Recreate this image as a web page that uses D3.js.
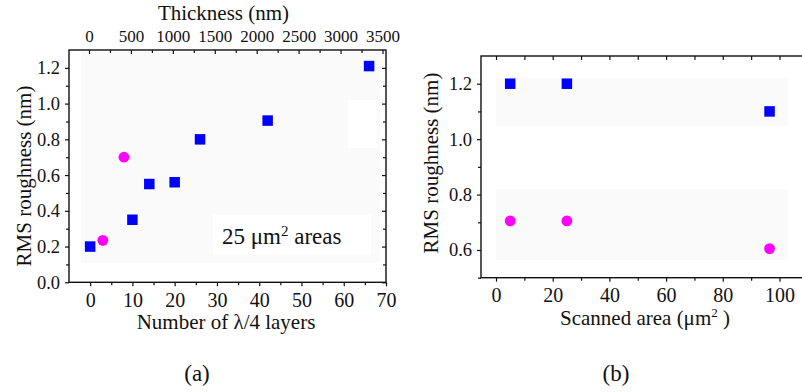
<!DOCTYPE html>
<html><head><meta charset="utf-8">
<script src="https://cdn.jsdelivr.net/npm/d3@7/dist/d3.min.js"></script>
</head>
<body style="margin:0;padding:0;background:#fff;"><svg id="c" width="802" height="392" style="display:block;"></svg>
<script>
// ---- data panel (a)
const layersSquares = [0, 10, 14, 20, 26, 42, 66];
const rmsSquares = [0.20, 0.35, 0.55, 0.56, 0.80, 0.905, 1.21];
const layersCircles = [3, 8];
const rmsCircles = [0.235, 0.70];
// ---- data panel (b)
const areaSquares = [5, 25, 96.5];
const rmsSquaresB = [1.20, 1.20, 1.10];
const areaCircles = [5, 25, 96.5];
const rmsCirclesB = [0.705, 0.705, 0.605];
// ---- ticks
const layerTicks = [0, 10, 20, 30, 40, 50, 60, 70];
const thicknessTicks = [0, 500, 1000, 1500, 2000, 2500, 3000, 3500];
const rmsTicksA = [0.0, 0.2, 0.4, 0.6, 0.8, 1.0, 1.2];
const areaTicks = [0, 20, 40, 60, 80, 100];
const rmsTicksB = [0.6, 0.8, 1.0, 1.2];

const FONT = '"Liberation Serif"';
const svg = d3.select("#c");
const BLUE = "#0000ff", MAG = "#ff00ff", INK = "#111";

function styleAxis(g, fs) {
  g.select(".domain").remove();
  g.attr("font-family", null);
  g.selectAll("line").attr("stroke", INK).attr("stroke-width", 1.2);
  g.selectAll("text").attr("fill", INK).style("font-size", fs + "px");
}
function minor(vals, step) {
  const out = [];
  for (let i = 0; i < vals.length - 1; i++) out.push(+(vals[i] + step).toFixed(6));
  return out;
}

// ================= Panel (a) =================
const A = {l: 69, r: 386, t: 50, b: 282.3};
const xA = d3.scaleLinear().domain([-5, 70]).range([A.l, A.r]);
const xTop = d3.scaleLinear().domain([-238.5, 3541.7]).range([A.l, A.r]);
const yA = d3.scaleLinear().domain([0, 1.3]).range([A.b, A.t]);

const gA = svg.append("g");
gA.append("rect").attr("x", 81).attr("y", 52).attr("width", 299).attr("height", 211).attr("fill", "#fafafb");
gA.append("rect").attr("x", 348).attr("y", 100).attr("width", 29).attr("height", 48).attr("fill", "#ffffff");
gA.append("rect").attr("x", 213).attr("y", 215).attr("width", 158).attr("height", 40).attr("fill", "#ffffff");

gA.append("g").attr("transform", `translate(0,${A.b})`)
  .call(d3.axisBottom(xA).tickValues(layerTicks).tickSize(4).tickSizeOuter(0).tickPadding(7).tickFormat(d3.format("d")))
  .call(g => styleAxis(g, 20));
gA.append("g").attr("transform", `translate(0,${A.b})`)
  .call(d3.axisBottom(xA).tickValues(minor(layerTicks, 5)).tickSize(3).tickSizeOuter(0).tickFormat(""))
  .call(g => styleAxis(g, 10));
gA.append("g").attr("transform", `translate(0,${A.t})`)
  .call(d3.axisTop(xTop).tickValues(thicknessTicks).tickSize(-4).tickSizeOuter(0).tickPadding(8).tickFormat(d3.format("d")))
  .call(g => styleAxis(g, 17));
gA.append("g").attr("transform", `translate(0,${A.t})`)
  .call(d3.axisTop(xTop).tickValues(minor(thicknessTicks, 250)).tickSize(-3).tickSizeOuter(0).tickFormat(""))
  .call(g => styleAxis(g, 10));
gA.append("g").attr("transform", `translate(${A.l},0)`)
  .call(d3.axisLeft(yA).tickValues(rmsTicksA).tickSize(4).tickSizeOuter(0).tickPadding(5).tickFormat(d3.format(".1f")))
  .call(g => styleAxis(g, 18.5));
gA.append("g").attr("transform", `translate(${A.l},0)`)
  .call(d3.axisLeft(yA).tickValues(minor(rmsTicksA, 0.1)).tickSize(3).tickSizeOuter(0).tickFormat(""))
  .call(g => styleAxis(g, 10));
gA.append("g").attr("transform", `translate(${A.r},0)`)
  .call(d3.axisRight(yA).tickValues(rmsTicksA).tickSize(-4).tickSizeOuter(0).tickFormat(""))
  .call(g => styleAxis(g, 10));
gA.append("g").attr("transform", `translate(${A.r},0)`)
  .call(d3.axisRight(yA).tickValues(minor(rmsTicksA, 0.1)).tickSize(-3).tickSizeOuter(0).tickFormat(""))
  .call(g => styleAxis(g, 10));
gA.append("rect").attr("x", A.l).attr("y", A.t).attr("width", A.r - A.l).attr("height", A.b - A.t)
  .attr("fill", "none").attr("stroke", INK).attr("stroke-width", 1.4);

const S = 10.5;
gA.selectAll("rect.sq").data(layersSquares.map((x, i) => [x, rmsSquares[i]])).join("rect")
  .attr("class", "sq").attr("x", d => xA(d[0]) - S / 2).attr("y", d => yA(d[1]) - S / 2)
  .attr("width", S).attr("height", S).attr("fill", BLUE);
gA.selectAll("circle.ci").data(layersCircles.map((x, i) => [x, rmsCircles[i]])).join("circle")
  .attr("class", "ci").attr("cx", d => xA(d[0])).attr("cy", d => yA(d[1])).attr("r", 5.4).attr("fill", MAG);

const ann = gA.append("text").attr("x", 222).attr("y", 243.5).style("font-size", "23px").attr("fill", INK);
ann.append("tspan").text("25 \u03bcm");
ann.append("tspan").style("font-size", "15px").attr("dy", -8).text("2");
ann.append("tspan").attr("dy", 8).text(" areas");

gA.append("text").attr("x", 223.5).attr("y", 19.5).attr("text-anchor", "middle").style("font-size", "21px").attr("fill", INK).text("Thickness (nm)");
gA.append("text").attr("x", 226).attr("y", 329).attr("text-anchor", "middle").style("font-size", "21px").attr("fill", INK).text("Number of \u03bb/4 layers");
gA.append("text").attr("transform", "translate(31,176) rotate(-90)").attr("text-anchor", "middle").style("font-size", "21px").attr("fill", INK).text("RMS roughness (nm)");
gA.append("text").attr("x", 197).attr("y", 381).attr("text-anchor", "middle").style("font-size", "23px").attr("fill", INK).text("(a)");

// ================= Panel (b) =================
const B = {l: 481, r: 803, t: 56, b: 277.7};
const xB = d3.scaleLinear().domain([-5.3, 108.3]).range([B.l, B.r]);
const yB = d3.scaleLinear().domain([0.5, 1.3]).range([B.b, B.t]);
const gB = svg.append("g");

gB.append("rect").attr("x", 496).attr("y", 78).attr("width", 292).attr("height", 48).attr("fill", "#fafafb");
gB.append("rect").attr("x", 496).attr("y", 189).attr("width", 292).attr("height", 71).attr("fill", "#fafafb");

gB.append("g").attr("transform", `translate(0,${B.b})`)
  .call(d3.axisBottom(xB).tickValues(areaTicks).tickSize(4).tickSizeOuter(0).tickPadding(6).tickFormat(d3.format("d")))
  .call(g => styleAxis(g, 20));
gB.append("g").attr("transform", `translate(0,${B.b})`)
  .call(d3.axisBottom(xB).tickValues(minor(areaTicks, 10)).tickSize(3).tickSizeOuter(0).tickFormat(""))
  .call(g => styleAxis(g, 10));
gB.append("g").attr("transform", `translate(0,${B.t})`)
  .call(d3.axisTop(xB).tickValues(areaTicks.concat(minor(areaTicks, 10))).tickSize(-4).tickSizeOuter(0).tickFormat(""))
  .call(g => styleAxis(g, 10));
gB.append("g").attr("transform", `translate(${B.l},0)`)
  .call(d3.axisLeft(yB).tickValues(rmsTicksB).tickSize(4).tickSizeOuter(0).tickPadding(5).tickFormat(d3.format(".1f")))
  .call(g => styleAxis(g, 18.5));
gB.append("g").attr("transform", `translate(${B.l},0)`)
  .call(d3.axisLeft(yB).tickValues([0.5].concat(minor(rmsTicksB, 0.1))).tickSize(3).tickSizeOuter(0).tickFormat(""))
  .call(g => styleAxis(g, 10));
gB.append("rect").attr("x", B.l).attr("y", B.t).attr("width", B.r - B.l).attr("height", B.b - B.t)
  .attr("fill", "none").attr("stroke", INK).attr("stroke-width", 1.4);

gB.selectAll("rect.sq").data(areaSquares.map((x, i) => [x, rmsSquaresB[i]])).join("rect")
  .attr("class", "sq").attr("x", d => xB(d[0]) - S / 2).attr("y", d => yB(d[1]) - S / 2)
  .attr("width", S).attr("height", S).attr("fill", BLUE);
gB.selectAll("circle.ci").data(areaCircles.map((x, i) => [x, rmsCirclesB[i]])).join("circle")
  .attr("class", "ci").attr("cx", d => xB(d[0])).attr("cy", d => yB(d[1])).attr("r", 5.4).attr("fill", MAG);

const xl = gB.append("text").attr("x", 645).attr("y", 325).attr("text-anchor", "middle").style("font-size", "21px").attr("fill", INK);
xl.append("tspan").text("Scanned area (\u03bcm");
xl.append("tspan").style("font-size", "13px").attr("dy", -8).text("2");
xl.append("tspan").attr("dy", 8).text(" )");
gB.append("text").attr("transform", "translate(438,163) rotate(-90)").attr("text-anchor", "middle").style("font-size", "21px").attr("fill", INK).text("RMS roughness (nm)");
gB.append("text").attr("x", 616).attr("y", 381).attr("text-anchor", "middle").style("font-size", "23px").attr("fill", INK).text("(b)");

// Serif font everywhere. Text is set at twice its size and scaled by 0.5 about its anchor,
// so the font is chosen at a large size where the renderer keeps its serifs.
svg.selectAll("text").each(function () {
  const t = d3.select(this);
  const x = +(t.attr("x") || 0), y = +(t.attr("y") || 0);
  const fs = parseFloat(t.style("font-size")) || 16;
  t.style("font-family", FONT).style("font-size", (2 * fs) + "px");
  t.selectAll("tspan").each(function () {
    const s = d3.select(this);
    const inl = this.style.fontSize;
    if (inl) s.style("font-size", (2 * parseFloat(inl)) + "px");
    const dy = s.attr("dy");
    if (dy !== null && !/em$/.test(dy)) s.attr("dy", 2 * parseFloat(dy));
  });
  const tr = t.attr("transform") || "";
  t.attr("transform", (tr + ` translate(${x},${y}) scale(0.5) translate(${-x},${-y})`).trim());
});
</script></body></html>
